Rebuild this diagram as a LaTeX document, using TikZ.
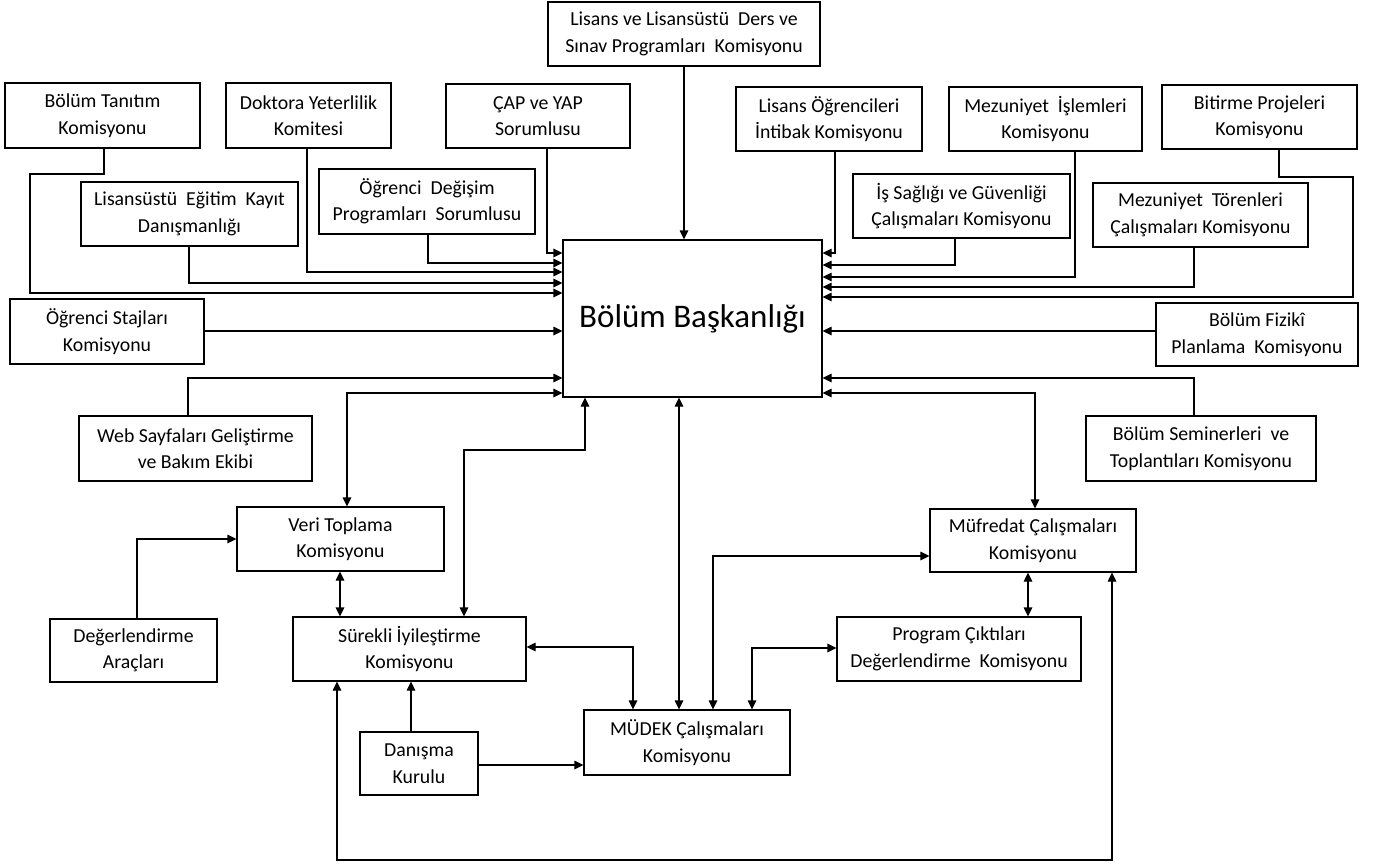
\documentclass[tikz,border=0pt]{standalone}
\usepackage{fontspec}
\setmainfont{Carlito}
\usetikzlibrary{arrows.meta,calc}
\begin{document}
\begin{tikzpicture}[x=1pt,y=-1pt,
  box/.style={draw=black,line width=1.1pt,inner sep=2pt,align=center,font=\fontsize{19.8}{26.5}\selectfont},
  arr/.style={line width=1.1pt,-{Triangle[length=9pt,width=8.5pt]}},
  darr/.style={line width=1.1pt,{Triangle[length=9pt,width=8.5pt]}-{Triangle[length=9pt,width=8.5pt]}}]
\useasboundingbox (0,0) rectangle (1373,865);
% nodes
\node[box,minimum width=272pt,minimum height=64pt] (lisders) at (684,34) {Lisans ve Lisansüstü\ \ Ders ve\\Sınav Programları\ \ Komisyonu};
\node[box,minimum width=195pt,minimum height=65pt] (tanitim) at (102.5,115.5) {Bölüm Tanıtım\\Komisyonu};
\node[box,minimum width=165pt,minimum height=65pt] (doktora) at (308.5,115.5) {Doktora Yeterlilik\\Komitesi};
\node[box,minimum width=184pt,minimum height=64pt] (cap) at (538,116) {ÇAP ve YAP\\Sorumlusu};
\node[box,minimum width=186pt,minimum height=64pt] (intibak) at (829,119) {Lisans Öğrencileri\\İntibak Komisyonu};
\node[box,minimum width=193pt,minimum height=64pt] (mezis) at (1045.5,119) {Mezuniyet\ \ İşlemleri\\Komisyonu};
\node[box,minimum width=195pt,minimum height=64pt] (bitirme) at (1259.5,117) {Bitirme Projeleri\\Komisyonu};
\node[box,minimum width=217pt,minimum height=64pt] (lkayit) at (189.5,214) {Lisansüstü\ \ Eğitim\ \ Kayıt\\Danışmanlığı};
\node[box,minimum width=216pt,minimum height=65pt] (degisim) at (427,201.5) {Öğrenci\ \ Değişim\\Programları\ \ Sorumlusu};
\node[box,minimum width=217pt,minimum height=64pt] (issag) at (961.5,206) {İş Sağlığı ve Güvenliği\\Çalışmaları Komisyonu};
\node[box,minimum width=215pt,minimum height=64pt] (toren) at (1200.5,215) {Mezuniyet\ \ Törenleri\\Çalışmaları Komisyonu};
\node[draw=black,line width=1.1pt,minimum width=259pt,minimum height=157pt,font=\fontsize{33}{40}\selectfont] (bb) at (692.5,318.5) {Bölüm Başkanlığı};
\node[box,minimum width=194pt,minimum height=65pt] (staj) at (107,331.5) {Öğrenci Stajları\\Komisyonu};
\node[box,minimum width=202pt,minimum height=63pt] (fiziki) at (1257,334.5) {Bölüm Fizikî\\Planlama\ \ Komisyonu};
\node[box,minimum width=233pt,minimum height=65pt] (web) at (195.5,448.5) {Web Sayfaları Geliştirme\\ve Bakım Ekibi};
\node[box,minimum width=230pt,minimum height=65pt] (seminer) at (1201,448.5) {Bölüm Seminerleri\ \ ve\\Toplantıları Komisyonu};
\node[box,minimum width=207pt,minimum height=64pt] (veri) at (340.5,539) {Veri Toplama\\Komisyonu};
\node[box,minimum width=206pt,minimum height=63pt] (mufredat) at (1033,540.5) {Müfredat Çalışmaları\\Komisyonu};
\node[box,minimum width=167pt,minimum height=63pt] (deger) at (133.5,650.5) {Değerlendirme\\Araçları};
\node[box,minimum width=233pt,minimum height=64pt] (surekli) at (409.5,649) {Sürekli İyileştirme\\Komisyonu};
\node[box,minimum width=244pt,minimum height=64pt] (program) at (959,649) {Program Çıktıları\\Değerlendirme\ \ Komisyonu};
\node[box,minimum width=206pt,minimum height=65pt] (mudek) at (687,742.5) {MÜDEK Çalışmaları\\Komisyonu};
\node[box,minimum width=118pt,minimum height=63pt] (danisma) at (419,763.5) {Danışma\\Kurulu};
% connectors into Bölüm Başkanlığı, top
\draw[arr] (lisders.south) -- (lisders.south |- bb.north);
% left side
\draw[arr] (cap.south -| 547,0) |- (bb.west |- 0,253);
\draw[arr] (degisim.south -| 428,0) |- (bb.west |- 0,263);
\draw[arr] (doktora.south -| 307,0) |- (bb.west |- 0,272);
\draw[arr] (lkayit.south -| 189,0) |- (bb.west |- 0,283);
\draw[arr] (tanitim.south -| 104,0) -- (104,174) -- (30,174) |- (bb.west |- 0,293);
\draw[arr] (staj.east |- 0,331) -- (bb.west |- 0,331);
\draw[arr] (web.north -| 188,0) |- (bb.west |- 0,378);
\draw[darr] (bb.west |- 0,393) -| (veri.north -| 347,0);
\draw[darr] (surekli.north -| 464,0) |- (585,450) -- (bb.south -| 585,0);
\draw[darr] (bb.south -| 679,0) -- (mudek.north -| 679,0);
% right side
\draw[arr] (intibak.south -| 835,0) |- (bb.east |- 0,253);
\draw[arr] (issag.south -| 955,0) |- (bb.east |- 0,265);
\draw[arr] (mezis.south -| 1075,0) |- (bb.east |- 0,277);
\draw[arr] (toren.south -| 1194,0) |- (bb.east |- 0,287);
\draw[arr] (bitirme.south -| 1279,0) -- (1279,177) -- (1353,177) |- (bb.east |- 0,297);
\draw[arr] (fiziki.west |- 0,331) -- (bb.east |- 0,331);
\draw[arr] (seminer.north -| 1194,0) |- (bb.east |- 0,378);
\draw[darr] (bb.east |- 0,393) -| (mufredat.north -| 1035,0);
% lower part
\draw[arr] (deger.north -| 137,0) |- (veri.west);
\draw[darr] (veri.south -| 340,0) -- (surekli.north -| 340,0);
\draw[darr] (surekli.east |- 0,647) -| (mudek.north -| 633,0);
\draw[arr] (danisma.north -| 411,0) -- (surekli.south -| 411,0);
\draw[arr] (danisma.east |- 0,765) -- (mudek.west |- 0,765);
\draw[darr] (surekli.south -| 337,0) -- (337,860) -- (1112,860) -- (mufredat.south -| 1112,0);
\draw[darr] (mufredat.west |- 0,556) -| (mudek.north -| 713,0);
\draw[darr] (mufredat.south -| 1028,0) -- (program.north -| 1028,0);
\draw[darr] (program.west |- 0,648) -| (mudek.north -| 752,0);
\end{tikzpicture}
\end{document}
